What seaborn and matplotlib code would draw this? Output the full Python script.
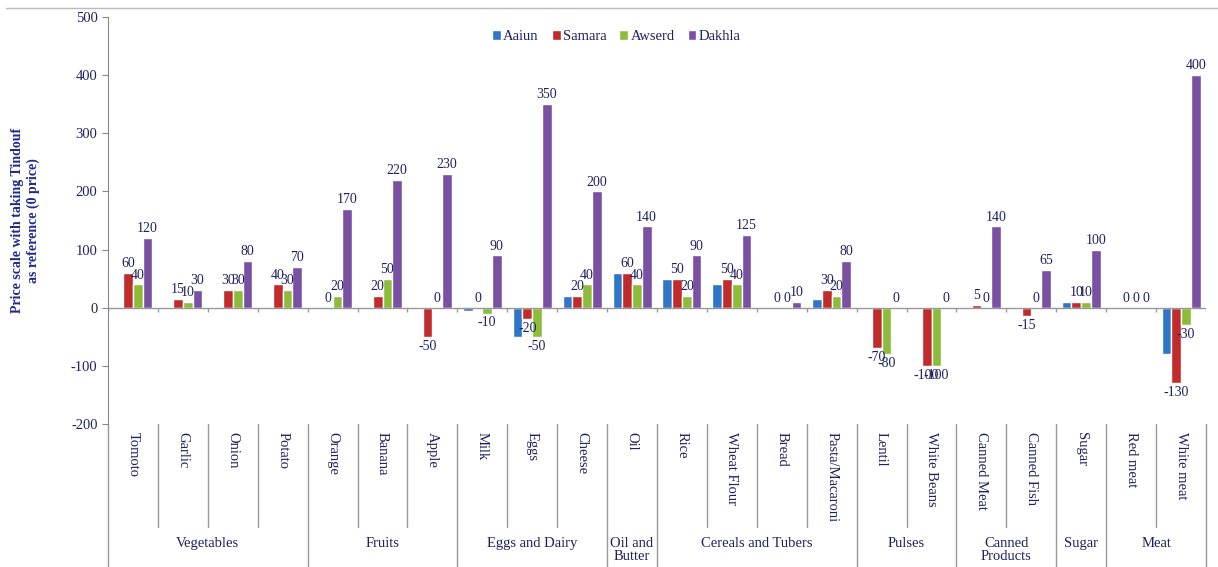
import numpy as np
import pandas as pd
import matplotlib
matplotlib.use("Agg")
import matplotlib.pyplot as plt
import matplotlib.transforms as mtransforms
import seaborn as sns

items = ["Tomoto", "Garlic", "Onion", "Potato", "Orange", "Banana", "Apple",
         "Milk", "Eggs", "Cheese", "Oil", "Rice", "Wheat Flour", "Bread",
         "Pasta/Macaroni", "Lentil", "White Beans", "Canned Meat", "Canned Fish",
         "Sugar", "Red meat", "White meat"]
groups = ["Vegetables", "Fruits", "Eggs and Dairy", "Oil and\nButter",
          "Cereals and Tubers", "Pulses", "Canned\nProducts", "Sugar", "Meat"]
group_sizes = [4, 3, 3, 1, 4, 2, 2, 1, 2]
cities = ["Aaiun", "Samara", "Awserd", "Dakhla"]

aaiun = [0, 0, 0, 0, 0, 0, 0, -5, -50, 20, 60, 50, 40, 0, 15, 0, 0, 0, 0, 10, 0, -80]
samara = [60, 15, 30, 40, 0, 20, -50, 0, -20, 20, 60, 50, 50, 0, 30, -70, -100, 5, -15, 10, 0, -130]
awserd = [40, 10, 30, 30, 20, 50, 0, -10, -50, 40, 40, 20, 40, 0, 20, -80, -100, 0, 0, 10, 0, -30]
dakhla = [120, 30, 80, 70, 170, 220, 230, 90, 350, 200, 140, 90, 125, 10, 80, 0, 0, 140, 65, 100, 0, 400]

colors = ["#2F76C8", "#C02B2B", "#8DBC3A", "#7A50A2"]
navy = "#1E2160"

rows = []
for city, vals in zip(cities, [aaiun, samara, awserd, dakhla]):
    for it, v in zip(items, vals):
        rows.append({"Item": it, "City": city, "Value": v})
df = pd.DataFrame(rows)

sns.set_style("white")
plt.rcParams["font.family"] = ["Liberation Serif", "DejaVu Serif"]
plt.rcParams["axes.unicode_minus"] = False

fig = plt.figure(figsize=(12.18, 5.67), dpi=100)
ax = fig.add_axes([108 / 1218, 1 - 424 / 567, 1098 / 1218, 407 / 567])

sns.barplot(data=df, x="Item", y="Value", hue="City", order=items,
            hue_order=cities, palette=colors, errorbar=None, width=0.78,
            saturation=1, ax=ax)

ax.set_ylim(-200, 500)
ax.set_xlim(-0.5, len(items) - 0.5)
ax.set_yticks(np.arange(-200, 501, 100))
ax.tick_params(axis="y", labelsize=10.5, labelcolor=navy, length=4,
               color="#888888", direction="out", left=True)
ax.set_xticks([])
ax.set_xlabel("")
ax.set_ylabel("Price scale with taking Tindouf\nas reference (0 price)",
              fontsize=10, fontweight="bold", color="#1F2A8A", labelpad=22,
              linespacing=1.3)
for s in ["top", "right", "bottom"]:
    ax.spines[s].set_visible(False)
ax.spines["left"].set_color("#888888")

# zero axis line with category tick marks
ax.axhline(0, color="#999999", lw=1, zorder=1)
ax.vlines(np.arange(-0.5, len(items)), -7, 0, color="#999999", lw=1)

# data labels (Aaiun labels are not shown in the source)
for cont in ax.containers[1:]:
    ax.bar_label(cont, fmt="%g", padding=2, fontsize=10, color=navy)

# legend
handles, labels = ax.get_legend_handles_labels()
ax.legend(handles, labels, loc="upper center", bbox_to_anchor=(0.463, 1.0),
          ncol=4, frameon=False, handlelength=0.6, handleheight=0.6,
          columnspacing=0.9, handletextpad=0.15, fontsize=10.5,
          labelcolor=navy)

# hierarchical category axis
trans = mtransforms.blended_transform_factory(ax.transData, ax.transAxes)
y_item_bot = (424 - 527) / 407
y_fig_bot = (424 - 567) / 407
for i, it in enumerate(items):
    ax.text(i, -0.02, it, transform=trans, rotation=-90, ha="center",
            va="top", fontsize=10.5, color=navy, clip_on=False)
bounds = np.concatenate([[0], np.cumsum(group_sizes)])
group_edges = set(bounds.tolist())
for b in range(len(items) + 1):
    x = b - 0.5
    y0 = y_fig_bot if b in group_edges else y_item_bot
    ax.plot([x, x], [0, y0], transform=trans, color="#999999", lw=1,
            clip_on=False)
for g, (a, b) in zip(groups, zip(bounds[:-1], bounds[1:])):
    ax.text((a + b - 1) / 2, (424 - 537) / 407, g, transform=trans,
            ha="center", va="top", fontsize=10.5, color=navy, clip_on=False,
            linespacing=1.05)

# thin top border line
fig.add_artist(plt.Line2D([0.005, 1.0], [1 - 8 / 567, 1 - 8 / 567],
                          transform=fig.transFigure, color="#BBBBBB", lw=1))

fig.savefig("out.png", dpi=100)
